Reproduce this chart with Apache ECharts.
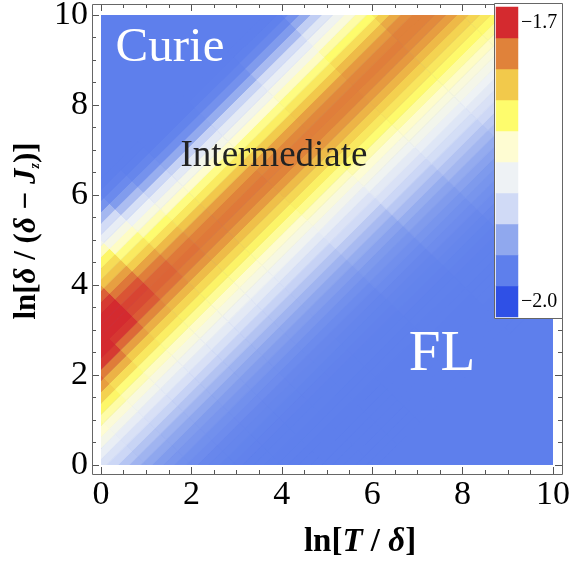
<!DOCTYPE html>
<html>
<head>
<meta charset="utf-8">
<script src="https://cdn.jsdelivr.net/npm/echarts@6/dist/echarts.min.js"></script>
<style>
  html, body { margin: 0; padding: 0; background: #fff; }
  #chart { width: 569px; height: 562px; }
</style>
</head>
<body>
<div id="chart"></div>
<script>
// The density is read as cross-sections of the diagonal band.
// Each station is a slice between two values of s = x + y, sampled across the band at d = y - x.
const dCenters = [-6, -5.75, -5.5, -5.25, -5, -4.75, -4.5, -4.25, -4, -3.75, -3.5, -3.25, -3, -2.75, -2.5, -2.25,
  -2, -1.75, -1.5, -1.25, -1, -0.75, -0.5, -0.25, 0, 0.25, 0.5, 0.75, 1, 1.25, 1.5, 1.75,
  2, 2.25, 2.5, 2.75, 3, 3.25, 3.5, 3.75, 4, 4.25, 4.5, 4.75, 5, 5.25, 5.5, 5.75, 6, 6.25];
const sEdges = [0, 1, 2, 3, 4, 5, 6, 7, 8, 10, 12, 14, 16, 18, 20];
const _ = null; // outside the plotted square

const s005 = [_, _, _, _, _, _, _, _, _, _, _, _, _, _, _, _, _, _, _, _,
  -1.934, -1.925, -1.914, -1.902, -1.889, -1.872, -1.854, -1.834, -1.815,
  _, _, _, _, _, _, _, _, _, _, _, _, _, _, _, _, _, _, _, _, _];
const s015 = [_, _, _, _, _, _, _, _, _, _, _, _, _, _, _, _,
  -1.956, -1.953, -1.948, -1.943, -1.934, -1.925, -1.915, -1.904, -1.890, -1.875, -1.857, -1.839, -1.819, -1.796, -1.772, -1.746,
  -1.722, _, _, _, _, _, _, _, _, _, _, _, _, _, _, _, _, _];
const s025 = [_, _, _, _, _, _, _, _, _, _, _, _,
  -1.964, -1.963, -1.961, -1.960, -1.956, -1.953, -1.948, -1.943, -1.934, -1.926, -1.915, -1.904,
  -1.891, -1.876, -1.860, -1.843, -1.824, -1.805, -1.780, -1.756, -1.731, -1.706, -1.700, -1.700, -1.700,
  _, _, _, _, _, _, _, _, _, _, _, _, _];
const s035 = [_, _, _, _, _, _, _, _, -1.966, -1.966, -1.965, -1.965, -1.964, -1.963, -1.961, -1.960,
  -1.956, -1.953, -1.948, -1.943, -1.934, -1.925, -1.915, -1.905, -1.891, -1.877, -1.862, -1.846, -1.828, -1.810, -1.787, -1.768,
  -1.747, -1.724, -1.705, -1.700, -1.700, -1.700, -1.706, -1.720, -1.745, _, _, _, _, _, _, _, _, _];
const s045 = [_, _, _, _, -1.967, -1.967, -1.967, -1.967, -1.966, -1.966, -1.965, -1.965, -1.964, -1.963, -1.961, -1.960,
  -1.956, -1.953, -1.948, -1.942, -1.934, -1.925, -1.915, -1.905, -1.891, -1.878, -1.862, -1.847, -1.830, -1.812, -1.791, -1.773,
  -1.754, -1.735, -1.719, -1.712, -1.710, -1.716, -1.729, -1.747, -1.764, -1.779, -1.796, -1.826, -1.856, _, _, _, _, _];
const s055 = [-1.967, -1.967, -1.967, -1.967, -1.967, -1.967, -1.967, -1.967, -1.966, -1.966, -1.965, -1.965, -1.964, -1.963, -1.961, -1.960,
  -1.956, -1.953, -1.948, -1.942, -1.934, -1.926, -1.915, -1.905, -1.892, -1.878, -1.863, -1.847, -1.830, -1.813, -1.793, -1.775,
  -1.758, -1.740, -1.727, -1.722, -1.723, -1.732, -1.749, -1.770, -1.788, -1.808, -1.829, -1.850, -1.873, -1.898, -1.923, -1.951, -1.962, _];
const s065 = [-1.967, -1.967, -1.967, -1.967, -1.967, -1.967, -1.967, -1.967, -1.966, -1.966, -1.965, -1.965, -1.964, -1.963, -1.961, -1.960,
  -1.957, -1.953, -1.948, -1.942, -1.934, -1.925, -1.915, -1.905, -1.892, -1.879, -1.863, -1.848, -1.831, -1.814, -1.794, -1.777,
  -1.760, -1.743, -1.731, -1.727, -1.730, -1.741, -1.759, -1.782, -1.801, -1.823, -1.845, -1.867, -1.893, -1.919, -1.943, -1.958, -1.964, -1.967];
const s075 = [-1.967, -1.967, -1.967, -1.967, -1.967, -1.967, -1.967, -1.967, -1.966, -1.966, -1.965, -1.965, -1.964, -1.963, -1.961, -1.960,
  -1.957, -1.953, -1.948, -1.942, -1.934, -1.925, -1.915, -1.905, -1.892, -1.878, -1.863, -1.848, -1.832, -1.814, -1.794, -1.777,
  -1.760, -1.744, -1.733, -1.730, -1.733, -1.745, -1.765, -1.787, -1.807, -1.830, -1.852, -1.875, -1.902, -1.929, -1.951, -1.961, -1.966, -1.967];
const s090 = [-1.967, -1.967, -1.967, -1.967, -1.967, -1.967, -1.967, -1.967, -1.966, -1.966, -1.965, -1.965, -1.964, -1.963, -1.962, -1.960,
  -1.957, -1.953, -1.948, -1.942, -1.934, -1.925, -1.915, -1.905, -1.892, -1.878, -1.863, -1.848, -1.832, -1.815, -1.795, -1.778,
  -1.762, -1.745, -1.734, -1.730, -1.734, -1.746, -1.766, -1.789, -1.809, -1.832, -1.855, -1.879, -1.905, -1.932, -1.954, -1.963, -1.967, -1.967];
const s110 = [-1.967, -1.967, -1.967, -1.967, -1.967, -1.967, -1.967, -1.966, -1.966, -1.965, -1.965, -1.964, -1.963, -1.962, -1.960, -1.957,
  -1.954, -1.950, -1.945, -1.938, -1.930, -1.921, -1.911, -1.900, -1.887, -1.873, -1.859, -1.843, -1.827, -1.810, -1.792, -1.776,
  -1.760, -1.744, -1.734, -1.732, -1.736, -1.748, -1.768, -1.791, -1.810, -1.833, -1.856, -1.878, -1.904, -1.930, -1.952, -1.962, -1.966, -1.967];
const s130 = [-1.967, -1.967, -1.967, -1.967, -1.967, -1.966, -1.966, -1.966, -1.965, -1.965, -1.964, -1.963, -1.961, -1.959, -1.956, -1.953,
  -1.949, -1.944, -1.937, -1.930, -1.921, -1.912, -1.902, -1.890, -1.878, -1.864, -1.851, -1.835, -1.821, -1.802, -1.787, -1.772,
  -1.757, -1.743, -1.734, -1.732, -1.736, -1.747, -1.766, -1.787, -1.807, -1.828, -1.850, -1.872, -1.896, -1.921, -1.944, -1.959, -1.965, -1.967];
const s150 = [-1.967, -1.967, -1.967, -1.966, -1.966, -1.966, -1.965, -1.965, -1.964, -1.963, -1.962, -1.961, -1.959, -1.956, -1.953, -1.949,
  -1.945, -1.938, -1.931, -1.923, -1.915, -1.906, -1.895, -1.884, -1.871, -1.858, -1.845, -1.831, -1.817, -1.799, -1.785, -1.771,
  -1.757, -1.744, -1.735, -1.732, -1.735, -1.744, -1.760, -1.780, -1.800, -1.819, -1.841, -1.862, -1.883, -1.908, -1.932, -1.952, -1.961, _];
const s170 = [_, _, _, _, _, _, _, _, -1.963, -1.962, -1.961, -1.959, -1.956, -1.953, -1.949, -1.945,
  -1.940, -1.933, -1.927, -1.919, -1.911, -1.901, -1.890, -1.879, -1.867, -1.855, -1.843, -1.829, -1.816, -1.799, -1.786, -1.773,
  -1.759, -1.746, -1.737, -1.733, -1.733, -1.739, -1.752, -1.770, -1.790, _, _, _, _, _, _, _, _, _];
const s190 = [_, _, _, _, _, _, _, _, _, _, _, _, _, _, _, _,
  -1.935, -1.929, -1.922, -1.914, -1.907, -1.897, -1.887, -1.876, -1.864, -1.853, -1.841, -1.828, -1.815, -1.799, -1.787, -1.774,
  -1.761, _, _, _, _, _, _, _, _, _, _, _, _, _, _, _, _, _];
const stationRows = [s005, s015, s025, s035, s045, s055, s065, s075, s090, s110, s130, s150, s170, s190];

// colour bar: 10 steps from -2.0 to -1.7
const barLevels = [-2.0, -1.967, -1.933, -1.9, -1.867, -1.833, -1.8, -1.767, -1.733, -1.7];
const barColors = ['#2f50e6', '#5e7fec', '#90a8ee', '#d0daf6', '#eef2f5',
  '#fefcd2', '#fefc6c', '#f2c94b', '#e0823a', '#d42a2f'];
const barTickText = { 0: '\u22122.0', 9: '\u22121.7' };

const serif = "'Liberation Serif', 'Times New Roman', serif";
const tickColor = '#555';
const halfD = 0.125;  // half step across the band

const cells = [];
stationRows.forEach((row, k) => row.forEach((v, m) => {
  if (v !== null) cells.push([sEdges[k], sEdges[k + 1], dCenters[m], v]);
}));

// a cell is a thin diamond in (x, y) = ((s - d) / 2, (s + d) / 2)
function renderCell(params, api) {
  const s0 = api.value(0);
  const s1 = api.value(1);
  const d = api.value(2);
  const pts = [[s0, d - halfD], [s1, d - halfD], [s1, d + halfD], [s0, d + halfD]]
    .map(p => api.coord([(p[0] - p[1]) / 2, (p[0] + p[1]) / 2]));
  const color = api.visual('color');
  return {
    type: 'polygon',
    shape: { points: pts },
    style: { fill: color, stroke: color, lineWidth: 0.8 }
  };
}

function frameAxis(pos, offset, labels) {
  return {
    type: 'value', gridIndex: 0, min: 0, max: 10, interval: 2,
    position: pos, offset: offset,
    axisLine: { show: false, onZero: false },
    axisTick: { show: true, inside: true, length: 7, lineStyle: { color: tickColor } },
    minorTick: { show: true, splitNumber: 4, length: 4, lineStyle: { color: tickColor } },
    splitLine: { show: false },
    axisLabel: { show: labels, fontFamily: serif, fontSize: 34, color: '#000', margin: 4 }
  };
}

const chart = echarts.init(document.getElementById('chart'));
chart.setOption({
  animation: false,
  backgroundColor: '#fff',
  grid: [
    { left: 101, top: 15, width: 452, height: 450, show: true, backgroundColor: '#5e7fec', borderWidth: 0, outerBoundsMode: 'none' },
    { left: 496, top: 7, width: 22, height: 310, outerBoundsMode: 'none' }
  ],
  xAxis: [
    frameAxis('bottom', 9, true),
    frameAxis('top', 11, false),
    { type: 'category', gridIndex: 1, data: [''], show: false }
  ],
  yAxis: [
    frameAxis('left', 9, true),
    frameAxis('right', 9, false),
    {
      type: 'category', gridIndex: 1, data: barLevels.map(String), position: 'right', z: 12,
      axisLine: { show: false }, axisTick: { show: false },
      axisLabel: {
        interval: 0, margin: 3, fontFamily: serif, fontSize: 20, color: '#000',
        formatter: (v, idx) => barTickText[idx] || ''
      }
    }
  ],
  visualMap: {
    show: false, type: 'continuous', seriesIndex: 0, dimension: 3,
    min: -2.0, max: -1.7, inRange: { color: barColors }
  },
  graphic: [
    { type: 'rect', z: 1, shape: { x: 92.5, y: 4.5, width: 470, height: 470 },
      style: { fill: 'rgba(0,0,0,0)', stroke: '#666', lineWidth: 1 } },
    { type: 'rect', z: 5, shape: { x: 494.5, y: 3.5, width: 68, height: 315 },
      style: { fill: '#fff', stroke: '#666', lineWidth: 1 } },
    { type: 'text', z: 6, x: 170, y: 48,
      style: { text: 'Curie', fill: '#fff', font: '49px ' + serif, textAlign: 'center', textVerticalAlign: 'middle', align: 'center', verticalAlign: 'middle' } },
    { type: 'text', z: 6, x: 274, y: 156,
      style: { text: 'Intermediate', fill: '#222', font: '37px ' + serif, textAlign: 'center', textVerticalAlign: 'middle', align: 'center', verticalAlign: 'middle' } },
    { type: 'text', z: 6, x: 442, y: 355,
      style: { text: 'FL', fill: '#fff', font: '57px ' + serif, textAlign: 'center', textVerticalAlign: 'middle', align: 'center', verticalAlign: 'middle' } },
    { type: 'text', z: 6, x: 360, y: 542,
      style: {
        text: '{b|ln[}{i|T}{b| / }{i|\u03b4}{b|]}',
        textAlign: 'center', textVerticalAlign: 'middle', align: 'center', verticalAlign: 'middle',
        rich: {
          b: { fontFamily: serif, fontWeight: 'bold', fontSize: 33, fill: '#000', color: '#000' },
          i: { fontFamily: serif, fontWeight: 'bold', fontStyle: 'italic', fontSize: 33, fill: '#000', color: '#000' }
        }
      } },
    { type: 'text', z: 6, x: 27, y: 231, rotation: Math.PI / 2,
      style: {
        text: '{b|ln[}{i|\u03b4}{b| / (}{i|\u03b4}{b| \u2212 }{i|J}{s|z}{b|)]}',
        textAlign: 'center', textVerticalAlign: 'middle', align: 'center', verticalAlign: 'middle',
        rich: {
          b: { fontFamily: serif, fontWeight: 'bold', fontSize: 31, fill: '#000', color: '#000' },
          i: { fontFamily: serif, fontWeight: 'bold', fontStyle: 'italic', fontSize: 31, fill: '#000', color: '#000' },
          s: { fontFamily: serif, fontWeight: 'bold', fontStyle: 'italic', fontSize: 14, fill: '#000', color: '#000', verticalAlign: 'bottom', padding: [12, 0, 0, 0] }
        }
      } }
  ],
  series: [
    {
      type: 'custom', xAxisIndex: 0, yAxisIndex: 0, z: 2, clip: true,
      renderItem: renderCell, data: cells, silent: true
    },
    {
      type: 'heatmap', xAxisIndex: 2, yAxisIndex: 2, z: 10,
      data: barLevels.map((v, i) => ({ value: [0, i, v], itemStyle: { color: barColors[i] } })),
      emphasis: { disabled: true }
    }
  ]
});
</script>
</body>
</html>
